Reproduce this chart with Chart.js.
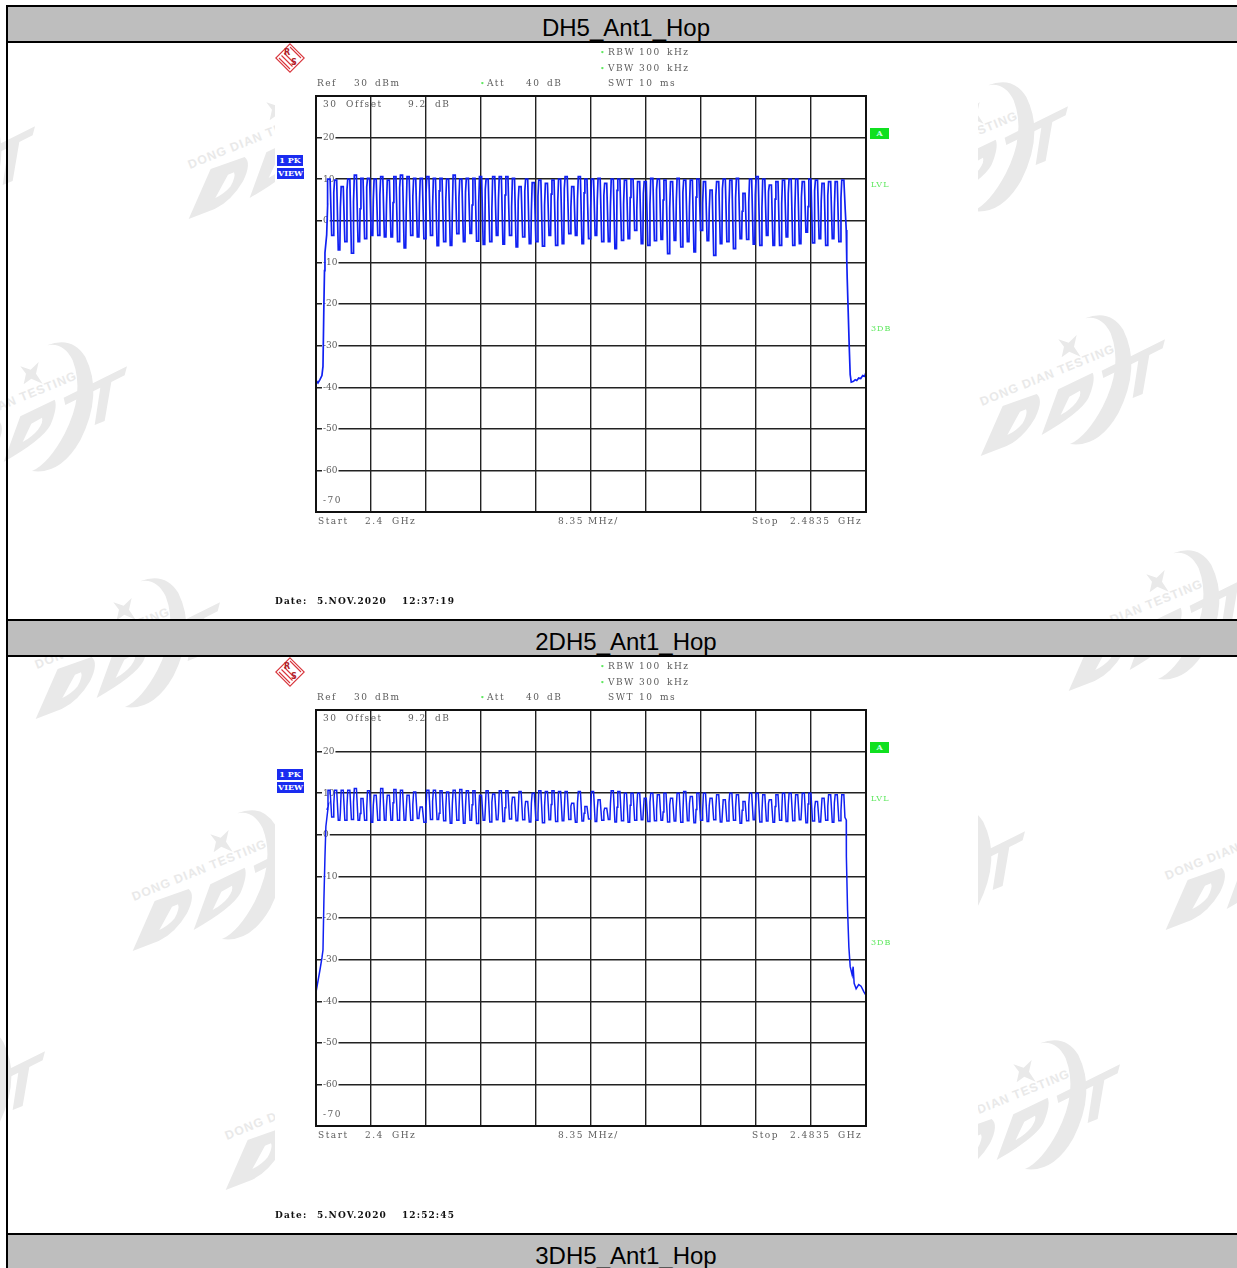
<!DOCTYPE html>
<html>
<head>
<meta charset="utf-8">
<title>Hop</title>
<script src="https://cdn.jsdelivr.net/npm/chart.js@4"></script>
<style>
  html, body { margin: 0; padding: 0; background: #fff; }
  body { position: relative; width: 1237px; height: 1268px; overflow: hidden; }
  .bar { position: absolute; left: 6px; width: 1236px; height: 34px; background: #bebebe; border: solid #000; border-width: 2px 0 2px 2px;
         font: 24px/41px "Liberation Sans", Arial, sans-serif; color: #000; text-align: center; box-sizing: content-box; z-index: 3; overflow: hidden; }
  .side { position: absolute; left: 6px; width: 2px; background: #000; z-index: 3; }
  .panel { position: absolute; left: 275px; width: 703px; height: 578px; background: #fff; z-index: 1; }
  .mark { position: absolute; z-index: 0; overflow: visible; }
  .t { position: absolute; height: 12px; line-height: 12px; white-space: pre; z-index: 4; color: #5c5c5c; letter-spacing: 1.5px;
       font-family: "DejaVu Serif", serif; font-size: 9px; filter: blur(.3px); }
  .date { color: #111; font-weight: bold; letter-spacing: 1.1px; }
  .green { color: #5fe85f; font-size: 8px; letter-spacing: 1px; }
  .box { position: absolute; z-index: 4; color: #fff; text-align: center; font: bold 8px/11px "DejaVu Serif", serif; white-space: pre; }
  canvas { position: absolute; z-index: 2; }
  .frame { position: absolute; z-index: 3; border: 2px solid #111; box-sizing: content-box; }
  .logo { position: absolute; z-index: 4; }
</style>
</head>
<body>
<svg width="0" height="0" style="position:absolute">
  <symbol id="didt" viewBox="0 0 200 160" overflow="visible">
    <g transform="scale(.3333)" fill="#e9e9e9">
      <path fill-rule="evenodd" d="M32 468 L98 318 L200 282 Q222 300 195 355 Q160 415 110 438 Z M112 405 L150 335 L168 328 Q174 340 158 370 Q140 392 112 405 Z"/>
      <path fill-rule="evenodd" d="M215 405 L265 268 L368 218 Q378 240 355 295 Q330 340 215 405 Z M272 345 L298 290 L330 272 Q335 285 318 308 Q300 330 272 345 Z"/>
      <path d="M395 212 L585 118 L578 145 L538 165 L518 282 L488 294 L505 182 L400 234 Z"/>
      <path d="M300 432 Q385 445 445 340 Q515 200 460 90 Q420 25 345 55 Q395 45 422 100 Q460 200 398 320 Q350 410 300 432 Z"/>
      <path d="M265 118 L296 128 L320 105 L312 140 L332 170 L298 155 L275 172 L282 140 Z"/>
      <text transform="translate(36 318) rotate(-22)" font-family="Liberation Sans, Arial" font-size="37" font-weight="bold" letter-spacing="3">DONG DIAN TESTING</text>
    </g>
  </symbol>
</svg>
<script>
// band limits and axis of the analyser
var startMHz = 2400;
var stopMHz = 2483.5;
var divMHz = 8.35;
var refTop = 30;
var refBottom = -70;
var firstChannel = 2402;

// DH5 - top of every hop channel, dip after it, step on the rising edge (dBm)
var peaks1 = [
  10, 9.8, 8.2, 10, 11, 10.2, 10.2, 10, 10.6, 9.8,
  10.6, 11, 10.6, 10.2, 10.2, 10.6, 10.2, 10.2, 10, 11,
  10, 10.2, 10.2, 10.6, 10, 10.6, 10.6, 10.6, 10.2, 8.2,
  10, 9.2, 9.8, 9, 9.8, 10, 10.6, 8.2, 10.6, 10,
  10, 10.2, 9, 10, 10, 9.8, 10, 9.4, 9.4, 10.2,
  10, 9.8, 9.4, 10.2, 9.8, 9.8, 10, 9.4, 7.4, 9.4,
  10, 9.8, 10.2, 6.6, 10, 10.6, 10, 8.6, 9.4, 9.8,
  10, 10, 9.4, 10, 9.8, 9, 9.4, 9.4, 9.8
];
var dips1 = [
  -3.5, -7, -5, -7.8, -5, -4.3, -3.5, -3.5, -3.9, -3.9,
  -5, -6.5, -3.5, -3.9, -4.3, -3.5, -6, -5, -5.9, -3.1,
  -5, -3, -4.9, -5.7, -5, -3.5, -5.6, -3.5, -6.3, -3.9,
  -5.5, -5, -6.1, -3.5, -5.9, -5.5, -3.1, -3.5, -5.5, -4.3,
  -3.5, -5, -5, -6.7, -4.7, -4.3, -2.3, -5.5, -5.9, -4.8,
  -4.5, -7.9, -4.7, -6.3, -5, -7.5, -2.3, -4.8, -8.3, -5.5,
  -5, -6.7, -4.3, -4.5, -5.6, -5.9, -3.5, -5.9, -5.9, -3.9,
  -5.9, -5.5, -2.7, -5.3, -4.3, -5.9, -4.3, -5
];
var steps1 = [
  4.2, 6.8, 3.1, 7.4, 4.6, 2.9, 8.1, 5.2, 6.3, 3.7,
  4.4, 7.9, 2.6, 5.8, 4.1, 6.6, 3.3, 7.2, 4.8, 2.2,
  5.5, 6.9, 3.8, 4.3, 7.6, 2.8, 5.1, 6.2, 3.4, 4.7,
  7.1, 2.5, 5.9, 3.6, 6.4, 4.5, 7.8, 3.2, 5.3, 6.7,
  2.7, 4.9, 6.1, 3.5, 7.3, 4, 5.6, 2.4, 6.5, 3.9,
  7.5, 5, 2.9, 4.6, 6.8, 3.3, 5.7, 4.2, 2.6, 6,
  7.7, 3.7, 5.4, 2.3, 4.4, 6.3, 3, 7, 5.2, 4.1,
  6.6, 2.8, 5.8, 3.4, 7.2, 4.7, 6.1, 3.1, 5.5
];
var riseFreq1 = [2400.08, 2400.3, 2400.6, 2400.9, 2401.06, 2401.2, 2401.29, 2401.36, 2401.62, 2401.77];
var riseLevel1 = [-38.5, -39, -38.2, -37.2, -35, -20, -12, -7.7, -3.4, 4];
var fallFreq1 = [2480.35, 2480.5, 2480.58, 2480.65, 2480.8, 2480.95, 2481.1, 2481.26, 2481.6, 2481.86, 2482.1, 2482.4, 2482.7, 2483, 2483.3, 2483.5];
var fallLevel1 = [2.6, -2.2, -9.4, -14, -22, -30, -37, -38.8, -38.6, -38.2, -38.4, -37.8, -37.9, -37.2, -37.4, -36.4];

// 2DH5
var peaks2 = [
  10.7, 10.7, 10.7, 10.7, 11.1, 8.7, 10.6, 9.5, 11.1, 9.5,
  10.9, 10.7, 9.5, 10.3, 6.7, 10.7, 10.7, 10.6, 10.3, 10.7,
  10.9, 10.6, 10.6, 9.5, 10.6, 9.8, 10.6, 10.6, 9, 10.4,
  8, 10, 10.6, 10.4, 10.6, 10.4, 10.4, 7.6, 10.4, 6.8,
  10.4, 8.4, 6.4, 10.6, 10.4, 10, 10, 10, 8.8, 10,
  9.6, 10, 8.8, 10, 10.4, 9.2, 10, 10, 8.8, 9.6,
  8.4, 10, 9.6, 8, 10, 10, 9.6, 8.4, 9.6, 10,
  10, 9.6, 10, 10, 8, 8.8, 9.6, 9.6, 9.6
];
var dips2 = [
  4.3, 3.5, 3.5, 3.7, 3.5, 3.5, 3, 3.5, 3.5, 3.5,
  3.5, 3.5, 3.5, 3.9, 3, 3.7, 3.7, 3.4, 2.8, 3.5,
  2.8, 3.5, 2.7, 3.5, 3.1, 3.6, 3.2, 3.8, 3.4, 3.6,
  3.1, 3.5, 2.9, 3.6, 3.2, 3.4, 3.7, 3, 3.3, 3.8,
  3.2, 3.5, 3.7, 3.1, 3.4, 3, 3.5, 3.6, 3.2, 3.4,
  3.5, 3.1, 3.3, 3, 3.4, 2.9, 3.5, 3.2, 3.6, 3.1,
  3.3, 3.5, 2.8, 3.4, 3.6, 3.1, 3.3, 3, 3.5, 3.2,
  3.4, 3.6, 2.9, 3.3, 3.1, 3.5, 3, 3.4
];
var steps2 = [
  6.2, 7.4, 5.3, 6.8, 7.9, 5.1, 6.4, 7.1, 5.6, 6.9,
  7.7, 5, 6.1, 7.3, 5.4, 6.6, 8, 5.2, 6.3, 7.5,
  5.7, 6.7, 7.2, 5.5, 6, 7.8, 5.3, 6.5, 7, 5.8,
  6.2, 7.6, 5.1, 6.8, 7.3, 5.4, 6.1, 6.9, 7.7, 5.2,
  6.4, 6.2, 5.6, 7.4, 6.6, 5, 7.1, 6.3, 5.7, 7.9,
  6, 5.5, 7.2, 6.7, 5.3, 7.5, 6.1, 5.8, 7, 6.4,
  5.2, 7.8, 6.5, 5.9, 7.3, 6.2, 5.4, 7.6, 6.8, 5.1,
  7.1, 6, 5.6, 7.4, 6.3, 5.5, 6.9, 7.7, 5.8
];
var riseFreq2 = [2400.05, 2400.6, 2400.9, 2401.06, 2401.2, 2401.36, 2401.5, 2401.85];
var riseLevel2 = [-37.4, -32.5, -29.6, -27.7, -15.7, -5.3, 2, 6.8];
var fallFreq2 = [2480.3, 2480.5, 2480.52, 2480.7, 2480.9, 2481.1, 2481.4, 2481.55, 2481.7, 2482, 2482.4, 2482.75, 2483.2, 2483.5];
var fallLevel2 = [4.2, 3.6, -5.2, -18, -27, -31.7, -33.7, -31.7, -35.7, -37, -36, -36.4, -37.8, -38.6];

var yTickLabels = { 20: '20', 10: '10', 0: '0', '-10': '-10', '-20': '-20', '-30': '-30', '-40': '-40', '-50': '-50', '-60': '-60' };
var rowTitles = ['DH5_Ant1_Hop', '2DH5_Ant1_Hop', '3DH5_Ant1_Hop'];
var rowDates = ['5.NOV.2020', '5.NOV.2020'];
var rowTimes = ['12:37:19', '12:52:45'];

// watermark stamps, x / y of each one on the page
var markX = [873, 178, -160, 970, -68, 25, 1058, 122, 830, 1155, -150, 215, 925];
var markY = [67, 63, 87, 300, 327, 563, 535, 795, 792, 774, 1012, 1034, 1025];

function add(html) {
  document.body.insertAdjacentHTML('beforeend', html);
}

function text(x, y, str, cls) {
  add('<div class="t ' + (cls || '') + '" style="left:' + x + 'px;top:' + (y - 6) + 'px">' + str + '</div>');
}

function buildTrace(peaks, dips, steps, riseFreq, riseLevel, fallFreq, fallLevel) {
  var pts = [];
  riseFreq.forEach(function(f, i) { pts.push({ x: f, y: riseLevel[i] }); });
  peaks.forEach(function(p, k) {
    var f = firstChannel + k;
    pts.push({ x: f - 0.3, y: steps[k] });
    pts.push({ x: f - 0.18, y: p });
    pts.push({ x: f + 0.14, y: p });
    if (k < dips.length) {
      pts.push({ x: f + 0.38, y: dips[k] });
      pts.push({ x: f + 0.62, y: dips[k] });
    }
  });
  fallFreq.forEach(function(f, i) { pts.push({ x: f, y: fallLevel[i] }); });
  return pts;
}

function drawTrace(id, pts, lineW) {
  new Chart(document.getElementById(id).getContext('2d'), {
    type: 'line',
    data: {
      datasets: [{
        data: pts,
        borderColor: '#1020f2',
        borderWidth: lineW,
        pointRadius: 0,
        tension: 0
      }]
    },
    options: {
      responsive: false,
      animation: false,
      parsing: false,
      normalized: true,
      layout: { padding: 0 },
      plugins: { legend: { display: false }, tooltip: { enabled: false } },
      scales: {
        x: {
          type: 'linear',
          min: startMHz,
          max: stopMHz,
          ticks: { display: false, stepSize: divMHz },
          grid: { color: '#222', lineWidth: 1.4, drawTicks: false },
          border: { display: false }
        },
        y: {
          type: 'linear',
          min: refBottom,
          max: refTop,
          // labels sit inside the plot, so the axis takes no room of its own
          afterFit: function(scale) {
            scale.width = 0;
            scale.paddingTop = 0;
            scale.paddingBottom = 0;
          },
          ticks: {
            stepSize: 10,
            mirror: true,
            padding: 7,
            color: '#5c5c5c',
            font: { family: 'DejaVu Serif', size: 9 },
            showLabelBackdrop: true,
            backdropColor: '#fff',
            backdropPadding: 1,
            callback: function(v) { return yTickLabels[v] || ''; }
          },
          grid: { color: '#222', lineWidth: 1.4, drawTicks: false },
          border: { display: false }
        }
      }
    }
  });
}

function rsLogo(x, y) {
  add('<svg class="logo" style="left:' + x + 'px;top:' + y + 'px" width="30" height="30" viewBox="0 0 30 30">' +
    '<g fill="none" stroke="#d8333a" stroke-width="1.1">' +
    '<path d="M15 .8 L29.2 15 L15 29.2 L.8 15 Z"/>' +
    '<path d="M4 15 L15 26 M6.5 12.5 L17.5 23.5 M9 10 L20 21 M15 4 L26 15"/></g>' +
    '<text x="9" y="12" font-size="8" font-weight="bold" fill="#b0242a" font-family="DejaVu Sans">R</text>' +
    '<text x="16" y="22" font-size="8" font-weight="bold" fill="#b0242a" font-family="DejaVu Sans">S</text></svg>');
}

// one analyser screenshot, dy = vertical shift of the row
function drawRow(dy, id, date, time) {
  add('<div class="panel" style="top:' + (42 + dy) + 'px"></div>');
  rsLogo(275, 43 + dy);
  var dot = '<span class="green">•</span>';
  text(600, 52 + dy, dot); text(608, 52 + dy, 'RBW'); text(639, 52 + dy, '100'); text(667, 52 + dy, 'kHz');
  text(600, 68 + dy, dot); text(608, 68 + dy, 'VBW'); text(639, 68 + dy, '300'); text(667, 68 + dy, 'kHz');
  text(608, 83 + dy, 'SWT'); text(639, 83 + dy, '10'); text(660, 83 + dy, 'ms');
  text(317, 83 + dy, 'Ref'); text(354, 83 + dy, '30'); text(375, 83 + dy, 'dBm');
  text(480, 83 + dy, dot); text(487, 83 + dy, 'Att'); text(526, 83 + dy, '40'); text(547, 83 + dy, 'dB');
  text(346, 104 + dy, 'Offset'); text(408, 104 + dy, '9.2'); text(435, 104 + dy, 'dB');
  text(323, 104 + dy, '30');
  text(323, 500 + dy, '-70');
  text(318, 521 + dy, 'Start'); text(365, 521 + dy, '2.4'); text(392, 521 + dy, 'GHz');
  text(558, 521 + dy, '8.35'); text(588, 521 + dy, 'MHz/');
  text(752, 521 + dy, 'Stop'); text(790, 521 + dy, '2.4835'); text(838, 521 + dy, 'GHz');
  text(275, 600.5 + dy, 'Date:', 'date'); text(317, 600.5 + dy, date, 'date'); text(402, 600.5 + dy, time, 'date');
  add('<div class="box" style="left:277px;top:' + (155 + dy) + 'px;width:26px;height:11px;background:#1a2cf0">1 PK</div>');
  add('<div class="box" style="left:277px;top:' + (168 + dy) + 'px;width:27px;height:11px;background:#1a2cf0">VIEW</div>');
  add('<div class="box" style="left:870px;top:' + (128 + dy) + 'px;width:19px;height:11px;background:#10e020;color:#cfe">A</div>');
  text(871, 185 + dy, 'LVL', 'green');
  text(871, 329 + dy, '3DB', 'green');
  add('<canvas id="' + id + '" width="550" height="416" style="left:316px;top:' + (96 + dy) + 'px;width:550px;height:416px"></canvas>');
  add('<div class="frame" style="left:315px;top:' + (95 + dy) + 'px;width:548px;height:414px"></div>');
}

markX.forEach(function(x, i) {
  add('<svg class="mark" style="left:' + x + 'px;top:' + markY[i] + 'px" width="200" height="160"><use href="#didt" width="200" height="160"/></svg>');
});

add('<div class="side" style="top:5px;height:1263px"></div>');
add('<div class="bar" style="top:5px">' + rowTitles[0] + '</div>');
add('<div class="bar" style="top:619px">' + rowTitles[1] + '</div>');
add('<div class="bar" style="top:1233px">' + rowTitles[2] + '</div>');

drawRow(0, 'trace1', rowDates[0], rowTimes[0]);
drawRow(614, 'trace2', rowDates[1], rowTimes[1]);

drawTrace('trace1', buildTrace(peaks1, dips1, steps1, riseFreq1, riseLevel1, fallFreq1, fallLevel1), 1.7);
drawTrace('trace2', buildTrace(peaks2, dips2, steps2, riseFreq2, riseLevel2, fallFreq2, fallLevel2), 1.5);
</script>
</body>
</html>
